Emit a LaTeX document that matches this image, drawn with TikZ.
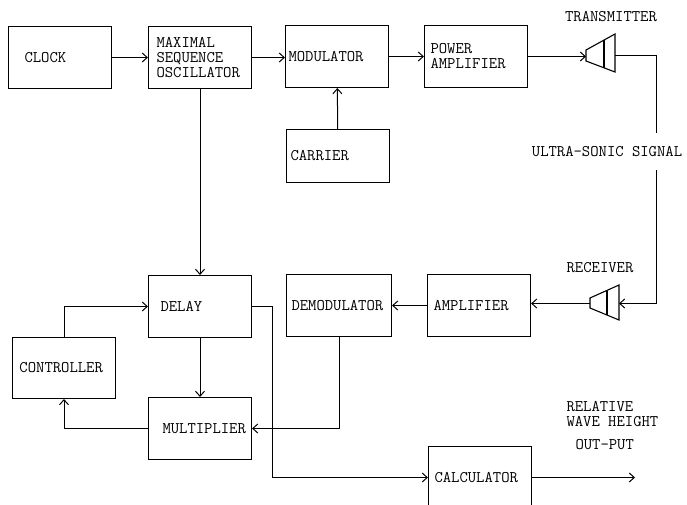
\documentclass[tikz,border=0pt]{standalone}
\usetikzlibrary{arrows.meta,calc}

\begin{document}
\begin{tikzpicture}[x=1pt,y=-1pt,font=\ttfamily\fontsize{16.2}{15}\selectfont,
  >={Straight Barb[length=5pt,width=9pt]},line width=1pt,
  blk/.style={draw,line width=1.1pt,minimum height=62pt,inner xsep=#1,
    text width=103pt-2*#1,align=left},
  lbl/.style={inner sep=0pt,align=left}]
  \useasboundingbox (0,0) rectangle (687,505);
  \clip (0,0) rectangle (687,505);

  \node[blk=16pt] (clock) at (60,57.5) {CLOCK};
  \node[blk=8pt] (mso) at (200,57.5) {MAXIMAL\\SEQUENCE\\OSCILLATOR};
  \node[blk=3pt] (mod) at (337,56.5) {MODULATOR};
  \node[blk=6pt] (pamp) at (476,56.5) {POWER\\AMPLIFIER};
  \node[blk=4pt,minimum height=53pt] (carrier) at (338,156) {CARRIER};

  \node[blk=12pt] (delay) at (200,306.5) {DELAY};
  \node[blk=5pt,text width=95pt] (demod) at (339,305.5) {DEMODULATOR};
  \node[blk=6pt] (amp) at (479,305.5) {AMPLIFIER};
  \node[blk=7pt,minimum height=61pt] (ctrl) at (64,368) {CONTROLLER};
  \node[blk=14pt] (mult) at (200,428.5) {MULTIPLIER};
  \node[blk=6pt] (calc) at (480,477.5) {CALCULATOR};

  % transducers
  \draw[line width=1.1pt] (586,50) -- (615,34) -- (615,72) -- (586,61) -- cycle;
  \draw[line width=1.1pt] (604,40) -- (604,68);
  \coordinate (tx) at (586,55.5);
  \coordinate (txo) at (615,55.5);
  \draw[line width=1.1pt] (590,298) -- (619,285) -- (619,320) -- (590,308) -- cycle;
  \draw[line width=1.1pt] (607,290.5) -- (607,315);
  \coordinate (rx) at (590,303.5);
  \coordinate (rxo) at (619,303.5);

  \node[lbl] (txlbl) at (611,17) {TRANSMITTER};
  \node[lbl] (rxlbl) at (600,268) {RECEIVER};
  \node[lbl] (sig) at (607,152) {ULTRA-SONIC SIGNAL};
  \node[lbl,anchor=west] (rel) at (566,414) {RELATIVE\\WAVE HEIGHT};
  \node[lbl,anchor=west] (outlbl) at (575,445) {OUT-PUT};

  \coordinate (gapa) at (656.5,133);
  \coordinate (gapb) at (656.5,170);
  \coordinate (out) at (635,477.5);

  \draw[->] (clock.east) -- (clock.east -| mso.west);
  \draw[->] (mso.east) -- (mso.east -| mod.west);
  \draw[->] (mod.east) -- (mod.east -| pamp.west);
  \draw[->] (pamp.east) -- (pamp.east -| tx);
  \draw[->] (carrier) -- (mod);
  \draw (txo) -| (gapa);
  \draw[->] (gapb) |- (rxo);
  \draw[->] (rx) -- (rx -| amp.east);
  \draw[->] (amp.west) -- (amp.west -| demod.east);
  \draw[->] (mso) -- (delay);
  \draw[->] (delay) -- (mult);
  \draw[->] (ctrl.north) |- (delay.west);
  \draw[->] (mult.west) -| (ctrl.south);
  \draw[->] (demod.south) |- (mult.east);
  \draw[->] (delay.east) -- ++(20,0) |- (calc.west);
  \draw[->] (calc.east) -- (out);
\end{tikzpicture}
\end{document}
